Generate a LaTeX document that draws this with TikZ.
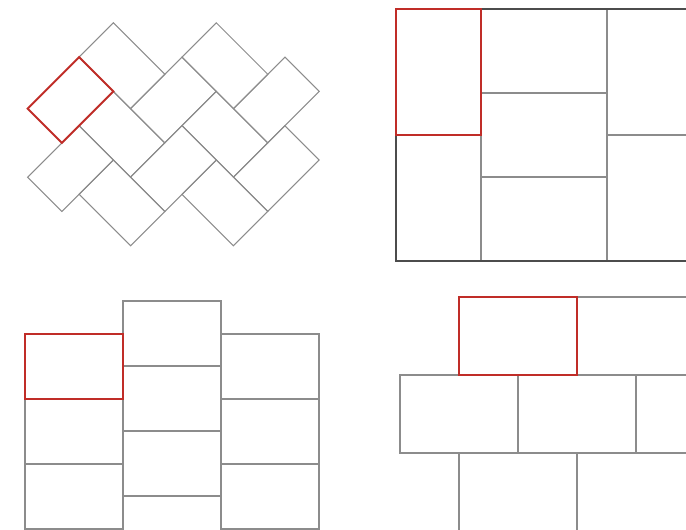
\documentclass[tikz,border=0pt]{standalone}
\usepackage{xcolor}
\usepackage{tikz}

\definecolor{tilered}{RGB}{192,45,40}

\begin{document}
\begin{tikzpicture}[
    % Global styles
    line join=miter,
    % Tile styles
    tile/.style={draw=black!45, line width=0.6pt},
    frame/.style={draw=black!70, line width=0.75pt},
    pick/.style={draw=tilered, line width=1.1pt},
  ]
  \clip (0,0) rectangle (13.72,-10.58);

  % ====================================================================
  % TOP LEFT -- Herringbone at 45 degrees
  % ====================================================================
  \begin{scope}[shift={(0.21cm,0.23cm)}, x={(0.343cm,-0.343cm)}, y={(0.343cm,0.343cm)}]
    % upright tiles (2 x 3)
    \foreach \a/\b in {6/-5, 7/0, 9/-2, 10/3, 12/1}
      \draw[tile] (\a,\b) -- ++(2,0) -- ++(0,3) -- ++(-2,0) -- cycle;
    % lying tiles (3 x 2)
    \foreach \a/\b in {4/0, 6/-2, 8/-4, 7/3, 9/1, 11/-1}
      \draw[tile] (\a,\b) -- ++(3,0) -- ++(0,2) -- ++(-3,0) -- cycle;
    % selected tile
    \draw[pick] (4,-3) -- ++(2,0) -- ++(0,3) -- ++(-2,0) -- cycle;
  \end{scope}

  % ====================================================================
  % TOP RIGHT -- Basket columns
  % ====================================================================
  \draw[tile] (7.92,-2.70) rectangle (9.62,-5.22);
  \foreach \y in {-0.18, -1.86, -3.54}
    \draw[tile] (9.62,\y) rectangle (12.14,\y-1.68);
  \foreach \y in {-0.18, -2.70}
    \draw[tile] (12.14,\y) rectangle (13.84,\y-2.52);
  \draw[frame] (13.84,-0.18) -- (7.92,-0.18) -- (7.92,-5.22) -- (13.84,-5.22);
  \draw[pick] (7.92,-0.18) rectangle (9.62,-2.70);

  % ====================================================================
  % BOTTOM LEFT -- Stacked columns
  % ====================================================================
  \foreach \y in {-7.98, -9.28}
    \draw[tile] (0.50,\y) rectangle (2.46,\y-1.30);
  \foreach \y in {-6.02, -7.32, -8.62, -9.92}
    \draw[tile] (2.46,\y) rectangle (4.42,\y-1.30);
  \foreach \y in {-6.68, -7.98, -9.28}
    \draw[tile] (4.42,\y) rectangle (6.38,\y-1.30);
  \draw[pick] (0.50,-6.68) rectangle (2.46,-7.98);

  % ====================================================================
  % BOTTOM RIGHT -- Running bond
  % ====================================================================
  \draw[tile] (11.54,-5.94) rectangle (13.90,-7.50);
  \foreach \x in {8.00, 10.36, 12.72}
    \draw[tile] (\x,-7.50) rectangle (\x+2.36,-9.06);
  \foreach \x in {9.18, 11.54}
    \draw[tile] (\x,-9.06) rectangle (\x+2.36,-10.62);
  \draw[pick] (9.18,-5.94) rectangle (11.54,-7.50);

\end{tikzpicture}
\end{document}
